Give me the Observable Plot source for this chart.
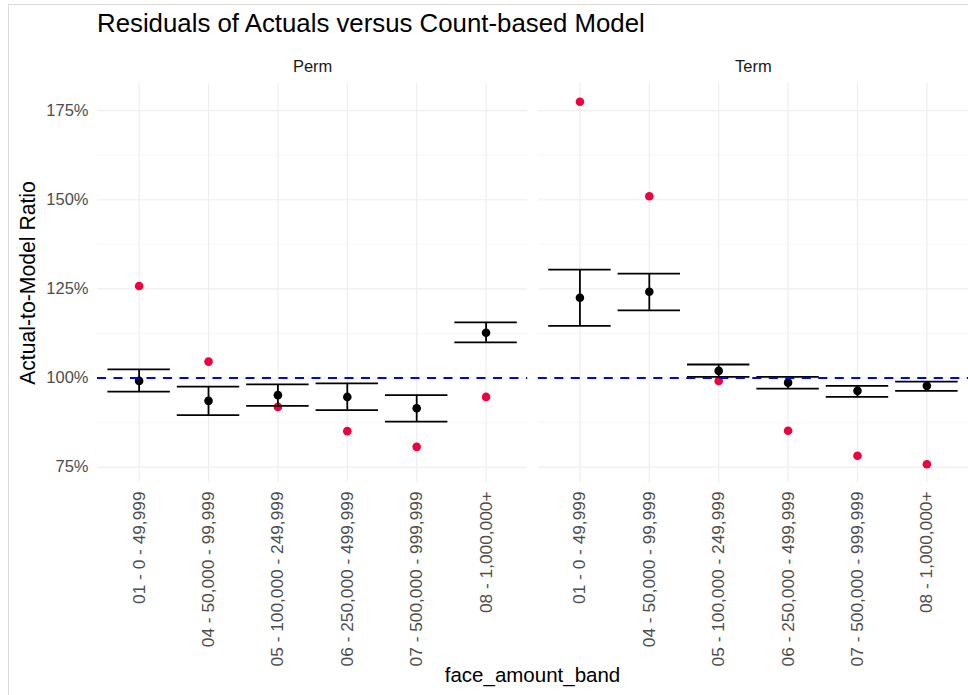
<!DOCTYPE html>
<html><head><meta charset="utf-8">
<script src="https://cdn.jsdelivr.net/npm/d3@7"></script>
<script src="https://cdn.jsdelivr.net/npm/@observablehq/plot@0.6"></script>
<style>
html,body{margin:0;padding:0;background:#fff;}
body{width:968px;height:695px;overflow:hidden;position:relative;font-family:"Liberation Sans",Arial,sans-serif;}
#frame{position:absolute;left:8px;top:4px;width:980px;height:720px;border:1px solid #dcdcdc;pointer-events:none;}
#title{height:45px;box-sizing:border-box;padding:11px 0 0 97px;font-size:25.8px;line-height:25.8px;color:#000;white-space:nowrap;}
#chart svg{display:block;}
#xlabel{height:30px;width:871px;margin-left:97px;text-align:center;font-size:20.5px;line-height:20.5px;color:#000;}
</style></head><body>
<div id="frame"></div>
<div id="title">Residuals of Actuals versus Count-based Model</div>
<div id="chart"></div>
<div id="xlabel">face_amount_band</div>
<script>
const types = ["Perm", "Term"];
const bands = ["01 - 0 - 49,999", "04 - 50,000 - 99,999", "05 - 100,000 - 249,999",
               "06 - 250,000 - 499,999", "07 - 500,000 - 999,999", "08 - 1,000,000+"];
const permEstimate = [99.2, 93.6, 95.2, 94.7, 91.5, 112.7];
const permLower    = [96.2, 89.6, 92.2, 91.0, 87.8, 110.0];
const permUpper    = [102.4, 97.6, 98.2, 98.5, 95.2, 115.6];
const permActual   = [125.8, 104.6, 91.9, 85.1, 80.7, 94.7];
const termEstimate = [122.5, 124.2, 102.0, 98.7, 96.4, 97.8];
const termLower    = [114.6, 119.0, 100.3, 97.0, 94.7, 96.4];
const termUpper    = [130.4, 129.3, 103.8, 100.3, 97.8, 99.0];
const termActual   = [177.5, 151.0, 99.2, 85.2, 78.2, 75.8];
const yTicks = [75, 100, 125, 150, 175];
const yMinorTicks = [87.5, 112.5, 137.5, 162.5];
const reference = [100];

const series = {
  Perm: {est: permEstimate, lo: permLower, hi: permUpper, act: permActual},
  Term: {est: termEstimate, lo: termLower, hi: termUpper, act: termActual}
};
const rows = types.flatMap(t => bands.map((b, i) => ({
  type: t, band: b,
  estimate: series[t].est[i], lower: series[t].lo[i], upper: series[t].hi[i], actual: series[t].act[i]
})));

const chart = Plot.plot({
  width: 968, height: 620,
  marginLeft: 97, marginRight: 0, marginTop: 38, marginBottom: 183,
  style: {fontFamily: "'Liberation Sans', Arial, sans-serif", fontSize: "16.5px", background: "white", overflow: "visible"},
  fx: {domain: types, paddingInner: 0.024, paddingOuter: 0, round: false, label: null},
  x: {domain: bands, type: "band", paddingInner: 0.1, paddingOuter: 0.15, align: 0.5, round: false, label: null},
  y: {domain: [70.7, 182.6], label: null},
  marks: [
    Plot.gridY(yMinorTicks, {stroke: "#f3f3f3", strokeOpacity: 1, strokeWidth: 0.7}),
    Plot.gridY(yTicks, {stroke: "#eeeeee", strokeOpacity: 1, strokeWidth: 1.2}),
    Plot.gridX({stroke: "#eeeeee", strokeOpacity: 1, strokeWidth: 1.2}),
    Plot.dot(rows, {fx: "type", x: "band", y: "actual", r: 4.3, fill: "#f0003c", stroke: null}),
    Plot.ruleX(rows, {fx: "type", x: "band", y1: "lower", y2: "upper", stroke: "black", strokeWidth: 1.8}),
    Plot.tickY(rows, {fx: "type", x: "band", y: "lower", stroke: "black", strokeWidth: 1.8}),
    Plot.tickY(rows, {fx: "type", x: "band", y: "upper", stroke: "black", strokeWidth: 1.8}),
    Plot.dot(rows, {fx: "type", x: "band", y: "estimate", r: 4.3, fill: "black", stroke: null}),
    Plot.ruleY(reference, {stroke: "blue", strokeWidth: 2, strokeDasharray: "9,7.5"}),
    Plot.axisY(yTicks, {tickFormat: d => d + "%", tickSize: 0, tickPadding: 9, fontSize: 16.5, fill: "#4d4d4d", label: null}),
    Plot.axisX({tickRotate: -90, tickSize: 0, tickPadding: 9, fontSize: 17.3, fill: "#4d4d4d", label: null}),
    Plot.axisFx({anchor: "top", tickSize: 0, tickPadding: 12, fontSize: 16.5, fill: "#1a1a1a", label: null}),
    Plot.text(["Actual-to-Model Ratio"], {fx: ["Perm"], frameAnchor: "left", textAnchor: "middle", dx: -69, rotate: -90, fontSize: 21.2, fill: "black"})
  ]
});
document.getElementById("chart").appendChild(chart);
</script>
</body></html>
